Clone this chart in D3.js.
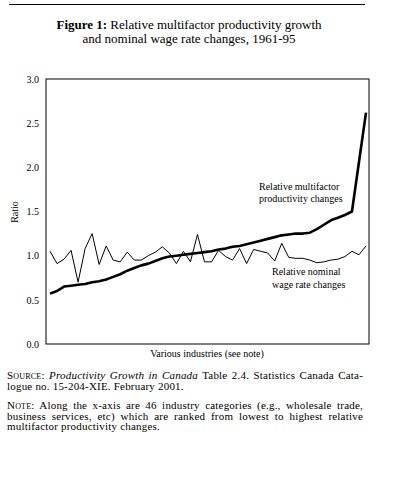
<!DOCTYPE html>
<html lang="en"><head>
<meta charset="utf-8"/>
<title>Figure 1: Relative multifactor productivity growth</title>
<script src="https://d3js.org/d3.v7.min.js"></script>
<style>
    body {width: 396px; height: 480px; margin: 0; padding: 0; background: #fff;
        font-family: 'Liberation Serif', 'DejaVu Serif', serif; color: #000;}
    .page {position: relative; width: 396px; height: 480px; overflow: hidden;}
    .rule {position: absolute; left: 9px; top: 4px; width: 356px; border-top: 1px solid #000;}
    .title {position: absolute; left: 0; top: 18px; width: 378px; text-align: center;
        font-size: 13px; line-height: 14px;}
    .note {position: absolute; left: 7px; width: 356px; font-size: 11px; line-height: 10.7px;
        letter-spacing: 0.2px;}
    .note div {text-align: justify; text-align-last: justify; white-space: nowrap;}
    .note div.last {text-align: left; text-align-last: left;}
    .sc {font-variant: small-caps;}
    #chart {position: absolute; left: 0; top: 0;}
    .axis text {font-family: 'Liberation Serif', serif; font-size: 10px;}
</style>
</head>
<body>
<div class="page">
<div class="rule"></div>
<div class="title"><div><b>Figure 1:</b> Relative multifactor productivity growth</div><div>and nominal wage rate changes, 1961-95</div></div>
<div id="chart"></div>
<div class="note" style="top: 370px;">
<div><span class="sc">Source:</span> <i>Productivity Growth in Canada</i> Table 2.4. Statistics Canada Cata-</div>
<div class="last">logue no. 15-204-XIE. February 2001.</div>
</div>
<div class="note" style="top: 400px;">
<div><span class="sc">Note:</span> Along the x-axis are 46 industry categories (e.g., wholesale trade,</div>
<div>business services, etc) which are ranked from lowest to highest relative</div>
<div class="last">multifactor productivity changes.</div>
</div>
</div>
<script>
    // 46 industries, ranked by relative multifactor productivity change
    const productivity = [0.57, 0.60, 0.65, 0.66, 0.67, 0.68, 0.70, 0.71, 0.73, 0.76,
        0.79, 0.83, 0.86, 0.89, 0.91, 0.94, 0.97, 0.99, 1.00, 1.01,
        1.02, 1.03, 1.04, 1.05, 1.07, 1.08, 1.10, 1.11, 1.13, 1.15,
        1.17, 1.19, 1.21, 1.23, 1.24, 1.25, 1.25, 1.26, 1.30, 1.35,
        1.40, 1.43, 1.46, 1.50, 2.06, 2.62];
    const wages = [1.05, 0.91, 0.96, 1.06, 0.70, 1.08, 1.25, 0.90, 1.11, 0.95,
        0.93, 1.04, 0.95, 0.95, 1.00, 1.04, 1.10, 1.03, 0.91, 1.05,
        0.93, 1.24, 0.93, 0.93, 1.06, 0.99, 0.95, 1.08, 0.91, 1.07,
        1.05, 1.03, 0.94, 1.14, 0.98, 0.97, 0.97, 0.95, 0.92, 0.93,
        0.95, 0.96, 0.99, 1.05, 1.01, 1.11];
    const industries = d3.range(productivity.length);
    const yTicks = [0, 0.5, 1.0, 1.5, 2.0, 2.5, 3.0];

    const box = {left: 46, top: 79, right: 369, bottom: 344};

    const svg = d3.select("#chart").append("svg")
        .attr("width", 396).attr("height", 480);

    const x = d3.scalePoint()
        .domain(industries)
        .range([50, 366]);

    const y = d3.scaleLinear()
        .domain([0, 3])
        .range([box.bottom, box.top]);

    // frame
    svg.append("rect")
        .attr("x", box.left).attr("y", box.top)
        .attr("width", box.right - box.left).attr("height", box.bottom - box.top)
        .attr("fill", "none").attr("stroke", "#000").attr("stroke-width", 1);

    // y axis, labels only
    svg.append("g")
        .attr("class", "axis")
        .attr("transform", `translate(${box.left}, 0)`)
        .call(d3.axisLeft(y).tickValues(yTicks).tickFormat(d3.format(".1f")).tickSize(0).tickPadding(7))
        .call(g => g.select(".domain").remove());

    svg.append("text")
        .attr("transform", "translate(18, 212) rotate(-90)")
        .attr("text-anchor", "middle")
        .style("font-size", "10px")
        .text("Ratio");

    svg.append("text")
        .attr("x", 207).attr("y", 357)
        .attr("text-anchor", "middle")
        .style("font-size", "10px")
        .text("Various industries (see note)");

    const line = d3.line()
        .x((d, i) => x(i))
        .y(d => y(d));

    svg.append("path")
        .datum(wages)
        .attr("fill", "none").attr("stroke", "#000").attr("stroke-width", 1)
        .attr("d", line);

    svg.append("path")
        .datum(productivity)
        .attr("fill", "none").attr("stroke", "#000").attr("stroke-width", 2.6)
        .attr("stroke-linejoin", "round")
        .attr("d", line);

    // series labels
    const lab = svg.append("g").style("font-size", "10px");
    lab.append("text").attr("x", 259).attr("y", 190).text("Relative multifactor");
    lab.append("text").attr("x", 259).attr("y", 202).text("productivity changes");
    lab.append("text").attr("x", 272).attr("y", 275).text("Relative nominal");
    lab.append("text").attr("x", 272).attr("y", 288).text("wage rate changes");
</script>
</body></html>
